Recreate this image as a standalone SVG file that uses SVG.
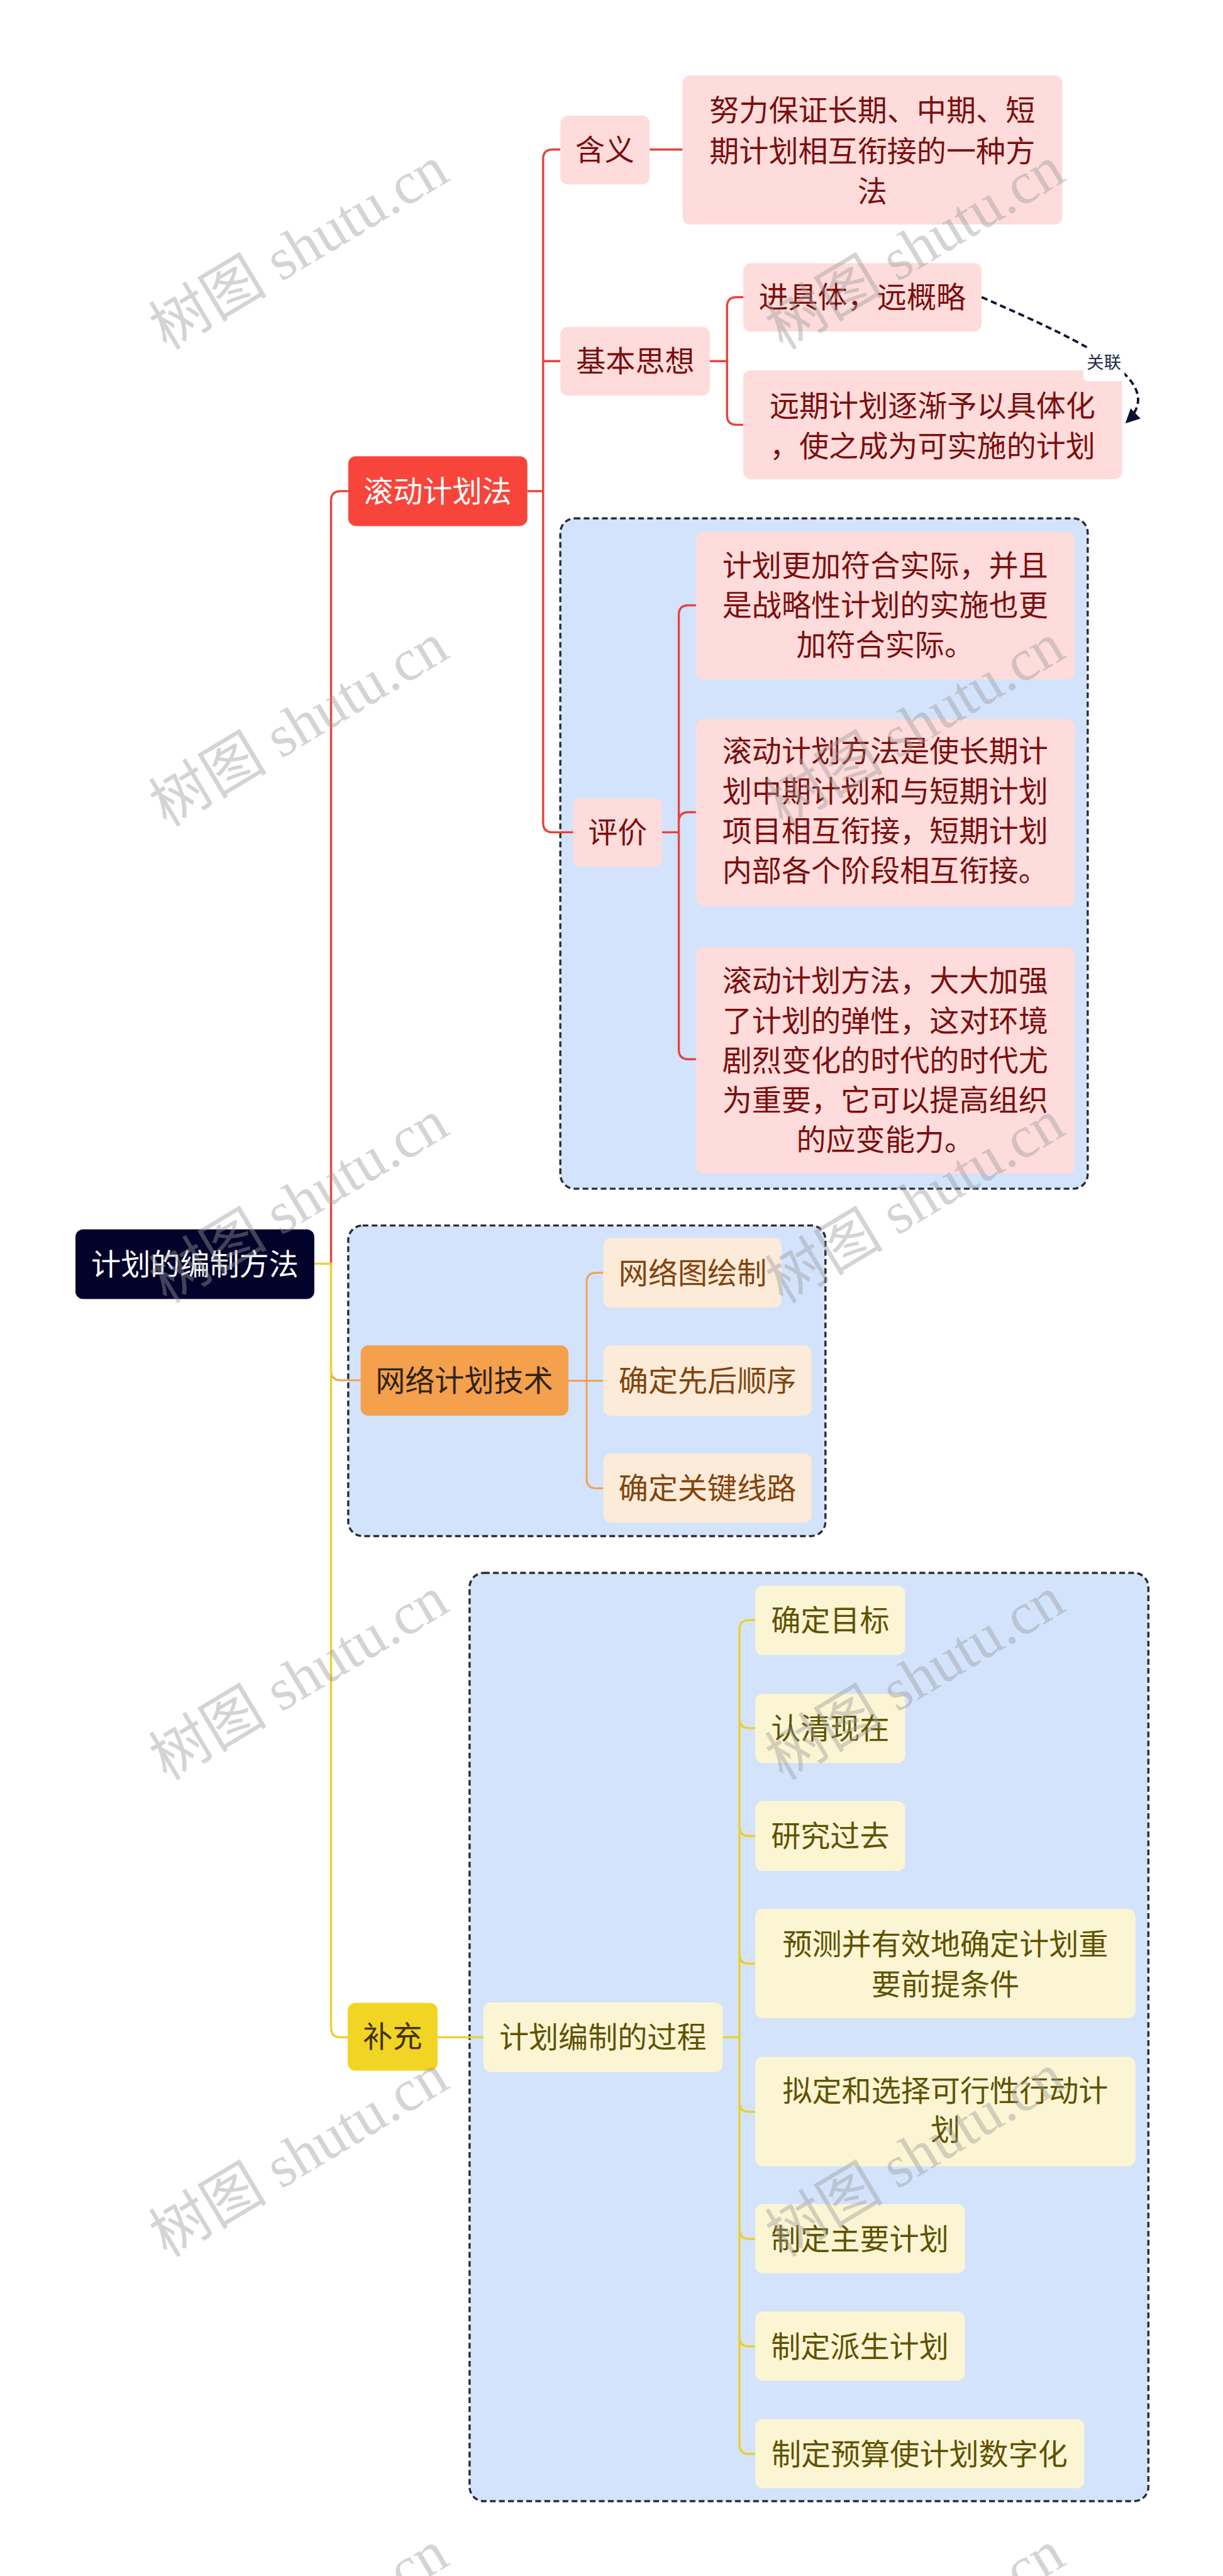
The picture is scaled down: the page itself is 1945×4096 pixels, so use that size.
<svg xmlns="http://www.w3.org/2000/svg" width="1945" height="4096" viewBox="0 0 1945 4096">
<defs>
<style>
text{font-family:"Noto Sans CJK SC","Noto Sans",sans-serif;font-size:62px;text-anchor:middle}
.grp{fill:#d3e3fb;stroke:#2a2d35;stroke-width:4.5;stroke-dasharray:12 7}
.rn{fill:#fddcdb}
.rt{fill:#7c0e0e}
.on{fill:#fcebd9}
.ot{fill:#84430c}
.yn{fill:#fcf5d3}
.yt{fill:#5f5200}
.lr{fill:none;stroke:#e8433b;stroke-width:4.5}
.lo{fill:none;stroke:#f2a055;stroke-width:4}
.ly{fill:none;stroke:#ecd02a;stroke-width:4.5}
.wm{font-family:"Liberation Serif","Noto Sans CJK SC",serif;font-size:124px;fill:#9a9a9a;opacity:.42}
</style>
<marker id="arr" viewBox="0 0 10 10" refX="9" refY="5" markerWidth="30" markerHeight="30" markerUnits="userSpaceOnUse" orient="auto">
<path d="M0,0 L10,5 L0,10 z" fill="#0d1230"/>
</marker>
</defs>
<rect width="1945" height="4096" fill="#ffffff"/>
<g transform="scale(0.7597)">
<g id="groups">
<rect class="grp" x="1173" y="1085" width="1104" height="1403" rx="30"/>
<rect class="grp" x="729" y="2565" width="999" height="650" rx="30"/>
<rect class="grp" x="983" y="3292" width="1421" height="1943" rx="30"/>
</g>
<g id="connectors">
<path class="lr" d="M693,2645 L693,1048 Q693,1028 713,1028 L729,1028" stroke-width="5.5"/>
<path class="lo" d="M693,2645 L693,2869 Q693,2889 713,2889 L755,2889"/>
<path class="ly" d="M658,2645 L693,2645 L693,4244 Q693,4264 713,4264 L728,4264" stroke-width="5.5"/>
<path class="lr" d="M1104,1028 L1137,1028"/>
<path class="lr" d="M1173,313 L1157,313 Q1137,313 1137,333 L1137,1722 Q1137,1742 1157,1742 L1200,1742 M1137,756 L1173,756"/>
<path class="lr" d="M1360,313 L1429,313"/>
<path class="lr" d="M1486,756 L1522,756 M1556,622 L1542,622 Q1522,622 1522,642 L1522,869 Q1522,889 1542,889 L1556,889"/>
<path class="lr" d="M1386,1742 L1421,1742 M1457,1267 L1441,1267 Q1421,1267 1421,1287 L1421,2197 Q1421,2217 1441,2217 L1457,2217 M1421,1720 Q1421,1700 1441,1700 L1457,1700"/>
<path class="lo" d="M1190,2890 L1263,2890 M1263,2664 L1248,2664 Q1228,2664 1228,2684 L1228,3095 Q1228,3115 1248,3115 L1263,3115"/>
<path class="ly" d="M916,4264 L1012,4264 M1513,4264 L1548,4264 M1581,3391 L1568,3391 Q1548,3391 1548,3411 L1548,5116 Q1548,5136 1568,5136 L1581,5136 M1548,3597 Q1548,3617 1568,3617 L1581,3617 M1548,3823 Q1548,3843 1568,3843 L1581,3843 M1548,4090 Q1548,4110 1568,4110 L1581,4110 M1548,4400 Q1548,4420 1568,4420 L1581,4420 M1548,4666 Q1548,4686 1568,4686 L1581,4686 M1548,4891 Q1548,4911 1568,4911 L1581,4911"/>
</g>
<g id="root">
<rect x="158" y="2573" width="500" height="146" rx="16" fill="#03022b"/>
<text x="408" y="2668" fill="#ffffff">计划的编制方法</text>
</g>
<g id="n-gundong">
<rect x="729" y="955" width="375" height="146" rx="16" fill="#f7453b"/>
<text x="916" y="1050" fill="#ffffff">滚动计划法</text>
</g>
<g id="n-hanyi">
<rect class="rn" x="1173" y="242" width="187" height="144" rx="16"/>
<text class="rt" x="1266" y="336">含义</text>
</g>
<g id="n-hanyi-1">
<rect class="rn" x="1429" y="158" width="795" height="312" rx="16"/>
<text class="rt" x="1826" y="253">努力保证长期、中期、短</text>
<text class="rt" x="1826" y="338">期计划相互衔接的一种方</text>
<text class="rt" x="1826" y="422">法</text>
</g>
<g id="n-jiben">
<rect class="rn" x="1173" y="684" width="313" height="144" rx="16"/>
<text class="rt" x="1330" y="778">基本思想</text>
</g>
<g id="n-jiben-1">
<rect class="rn" x="1556" y="551" width="499" height="143" rx="16"/>
<text class="rt" x="1805" y="644">进具体，远概略</text>
</g>
<g id="n-jiben-2">
<rect class="rn" x="1556" y="775" width="793" height="228" rx="16"/>
<text class="rt" x="1952" y="871">远期计划逐渐予以具体化</text>
<text class="rt" x="1952" y="955">，使之成为可实施的计划</text>
</g>
<g id="relation">
<path d="M2055,622 C2290,725 2445,800 2358,884" fill="none" stroke="#0d1230" stroke-width="5" stroke-dasharray="13 8" marker-end="url(#arr)"/>
<rect x="2268" y="728" width="86" height="70" rx="8" fill="#ffffff"/>
<text x="2311" y="771" style="font-size:36px" fill="#1d2a4a">关联</text>
</g>
<g id="n-pingjia">
<rect class="rn" x="1200" y="1671" width="186" height="143" rx="16"/>
<text class="rt" x="1293" y="1764">评价</text>
</g>
<g id="n-pingjia-1">
<rect class="rn" x="1457" y="1113" width="793" height="309" rx="16"/>
<text class="rt" x="1853" y="1206">计划更加符合实际，并且</text>
<text class="rt" x="1853" y="1289">是战略性计划的实施也更</text>
<text class="rt" x="1853" y="1372">加符合实际。</text>
</g>
<g id="n-pingjia-2">
<rect class="rn" x="1457" y="1505" width="793" height="391" rx="16"/>
<text class="rt" x="1853" y="1594">滚动计划方法是使长期计</text>
<text class="rt" x="1853" y="1678">划中期计划和与短期计划</text>
<text class="rt" x="1853" y="1761">项目相互衔接，短期计划</text>
<text class="rt" x="1853" y="1844">内部各个阶段相互衔接。</text>
</g>
<g id="n-pingjia-3">
<rect class="rn" x="1457" y="1982" width="793" height="475" rx="16"/>
<text class="rt" x="1853" y="2075">滚动计划方法，大大加强</text>
<text class="rt" x="1853" y="2159">了计划的弹性，这对环境</text>
<text class="rt" x="1853" y="2242">剧烈变化的时代的时代尤</text>
<text class="rt" x="1853" y="2325">为重要，它可以提高组织</text>
<text class="rt" x="1853" y="2408">的应变能力。</text>
</g>
<g id="n-wangluo">
<rect x="755" y="2816" width="435" height="147" rx="16" fill="#f5a04c"/>
<text x="972" y="2912" fill="#2e2414">网络计划技术</text>
</g>
<g id="n-wangluo-1">
<rect class="on" x="1263" y="2591" width="373" height="146" rx="16"/>
<text class="ot" x="1450" y="2686">网络图绘制</text>
</g>
<g id="n-wangluo-2">
<rect class="on" x="1263" y="2816" width="436" height="147" rx="16"/>
<text class="ot" x="1481" y="2912">确定先后顺序</text>
</g>
<g id="n-wangluo-3">
<rect class="on" x="1263" y="3042" width="436" height="145" rx="16"/>
<text class="ot" x="1481" y="3137">确定关键线路</text>
</g>
<g id="n-buchong">
<rect x="728" y="4192" width="188" height="142" rx="16" fill="#f2d424"/>
<text x="822" y="4285" fill="#3d3300">补充</text>
</g>
<g id="n-guocheng">
<rect class="yn" x="1012" y="4191" width="501" height="146" rx="16"/>
<text class="yt" x="1262" y="4286">计划编制的过程</text>
</g>
<g id="n-g1">
<rect class="yn" x="1581" y="3319" width="314" height="145" rx="16"/>
<text class="yt" x="1738" y="3413">确定目标</text>
</g>
<g id="n-g2">
<rect class="yn" x="1581" y="3545" width="314" height="145" rx="16"/>
<text class="yt" x="1738" y="3639">认清现在</text>
</g>
<g id="n-g3">
<rect class="yn" x="1581" y="3770" width="314" height="146" rx="16"/>
<text class="yt" x="1738" y="3865">研究过去</text>
</g>
<g id="n-g4">
<rect class="yn" x="1581" y="3995" width="796" height="229" rx="16"/>
<text class="yt" x="1979" y="4091">预测并有效地确定计划重</text>
<text class="yt" x="1979" y="4175">要前提条件</text>
</g>
<g id="n-g5">
<rect class="yn" x="1581" y="4305" width="796" height="229" rx="16"/>
<text class="yt" x="1979" y="4398">拟定和选择可行性行动计</text>
<text class="yt" x="1979" y="4480">划</text>
</g>
<g id="n-g6">
<rect class="yn" x="1581" y="4613" width="439" height="145" rx="16"/>
<text class="yt" x="1800" y="4708">制定主要计划</text>
</g>
<g id="n-g7">
<rect class="yn" x="1581" y="4838" width="439" height="145" rx="16"/>
<text class="yt" x="1800" y="4933">制定派生计划</text>
</g>
<g id="n-g8">
<rect class="yn" x="1581" y="5063" width="689" height="145" rx="16"/>
<text class="yt" x="1925" y="5158">制定预算使计划数字化</text>
</g>
<g id="watermarks">
<text class="wm" transform="translate(647,555) rotate(-31)">树图 shutu.cn</text>
<text class="wm" transform="translate(1937,555) rotate(-31)">树图 shutu.cn</text>
<text class="wm" transform="translate(647,1553) rotate(-31)">树图 shutu.cn</text>
<text class="wm" transform="translate(1937,1553) rotate(-31)">树图 shutu.cn</text>
<text class="wm" transform="translate(647,2551) rotate(-31)">树图 shutu.cn</text>
<text class="wm" transform="translate(1937,2551) rotate(-31)">树图 shutu.cn</text>
<text class="wm" transform="translate(647,3549) rotate(-31)">树图 shutu.cn</text>
<text class="wm" transform="translate(1937,3549) rotate(-31)">树图 shutu.cn</text>
<text class="wm" transform="translate(647,4547) rotate(-31)">树图 shutu.cn</text>
<text class="wm" transform="translate(1937,4547) rotate(-31)">树图 shutu.cn</text>
<text class="wm" transform="translate(647,5545) rotate(-31)">树图 shutu.cn</text>
<text class="wm" transform="translate(1937,5545) rotate(-31)">树图 shutu.cn</text>
</g>
</g>
</svg>
